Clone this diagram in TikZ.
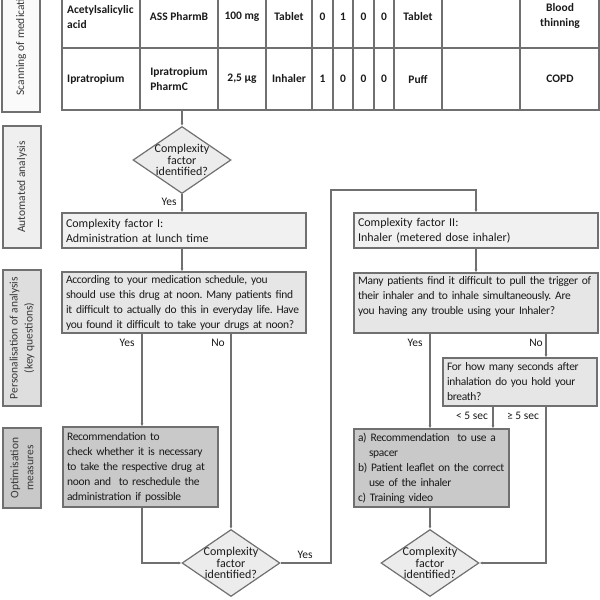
\documentclass[tikz,border=0pt]{standalone}
\usepackage{fontspec}
\setmainfont{Carlito}
\newfontfamily\qfont[WordSpace=0.7,LetterSpace=-2.5]{Carlito}
\usetikzlibrary{shapes.geometric,arrows.meta}
\definecolor{ln}{HTML}{707070}
\definecolor{txt}{HTML}{1A1A1A}
\definecolor{sidetxt}{HTML}{3A3A3A}
\definecolor{cfill}{HTML}{F1F1F1}
\definecolor{qfill}{HTML}{E6E6E6}
\definecolor{rfill}{HTML}{C9C9C9}
\definecolor{dfill}{HTML}{ECECEC}
\definecolor{sone}{HTML}{FAFAFA}
\definecolor{stwo}{HTML}{EFEFEF}
\definecolor{sthree}{HTML}{DEDEDE}
\definecolor{sfour}{HTML}{C9C9C9}
\newcommand\qline[1]{\mbox{#1}}
\begin{document}
\frenchspacing
\begin{tikzpicture}[x=1pt,y=-1pt,
  every node/.style={text=txt},
  conn/.style={draw=ln,line width=1.2pt,-{Latex[length=3pt,width=3pt]}},
  grid/.style={draw=ln,line width=1.2pt},
  fbox/.style={draw=ln,line width=1.2pt,rectangle,inner xsep=4pt,inner ysep=0pt,align=left},
  cfont/.style={font=\fontsize{12}{15}\selectfont},
  qf/.style={font=\qfont\fontsize{11.5}{15}\selectfont\frenchspacing},
  dia/.style={draw=ln,line width=1.2pt,diamond,fill=dfill,minimum width=98pt,minimum height=67pt,inner sep=0pt,
    label={[font=\fontsize{12}{11.5}\selectfont,align=center,text=txt]center:Complexity\\factor\\identified?}},
  lab/.style={font=\fontsize{11.5}{14}\selectfont,inner sep=0pt},
  side/.style={draw=ln,line width=1.2pt,rectangle,minimum height=38pt,inner sep=0pt,rotate=90,font=\fontsize{11.5}{15}\selectfont,text=sidetxt,align=center},
  tcell/.style={font=\bfseries\fontsize{11.5}{15}\selectfont,align=center,inner sep=0pt},
]
\useasboundingbox (0,0) rectangle (600,600);

% side labels
\node[side,fill=sone,minimum width=142pt] (s1) at (21,41) {Scanning of medication};
\node[side,fill=stwo,minimum width=122pt] (s2) at (22,187) {Automated analysis};
\node[side,fill=sthree,minimum width=136pt] (s3) at (22,338) {Personalisation of analysis\\(key questions)};
\node[side,fill=sfour,minimum width=80pt] (s4) at (22,468) {Optimisation\\measures};

% table
\draw[grid] (62,-14) rectangle (599,110);
\draw[grid] (62,48) -- (599,48);
\foreach \x in {140,218,266,312,333,353,374,394,442,520}
  \draw[grid] (\x,-14) -- (\x,110);
\node[tcell,anchor=west,align=left] (a1) at (67,17) {Acetylsalicylic\\acid};
\node[tcell] (a2) at (179,17) {ASS PharmB};
\node[tcell] (a3) at (242,17) {100 mg};
\node[tcell] (a4) at (289,17) {Tablet};
\node[tcell] (a5) at (322.5,17) {0};
\node[tcell] (a6) at (343,17) {1};
\node[tcell] (a7) at (363.5,17) {0};
\node[tcell] (a8) at (384,17) {0};
\node[tcell] (a9) at (418,17) {Tablet};
\node[tcell] (a11) at (560,16) {Blood\\thinning};
\node[tcell,anchor=west] (b1) at (67,79) {Ipratropium};
\node[tcell,align=left] (b2) at (179,79) {Ipratropium\\PharmC};
\node[tcell] (b3) at (242,79) {2,5 µg};
\node[tcell] (b4) at (289,79) {Inhaler};
\node[tcell] (b5) at (322.5,79) {1};
\node[tcell] (b6) at (343,79) {0};
\node[tcell] (b7) at (363.5,79) {0};
\node[tcell] (b8) at (384,79) {0};
\node[tcell] (b9) at (418,79) {Puff};
\node[tcell] (b11) at (560,79) {COPD};
\coordinate (tb) at (182,110);

% flow nodes
\node[dia] (d1) at (182,160) {};
\node[fbox,cfont,fill=cfill,text width=236pt,minimum height=35pt] (c1) at (184,230.5) {Complexity factor I:\\Administration at lunch time};
\node[fbox,cfont,fill=cfill,text width=236pt,minimum height=35pt] (c2) at (476,230.5) {Complexity factor II:\\Inhaler (metered dose inhaler)};
\node[fbox,qf,fill=qfill,text width=236pt,minimum height=61pt] (q1) at (184,302.5) {\qline{According to your medication schedule, you}\\\qline{should use this drug at noon. Many patients find}\\\qline{it difficult to actually do this in everyday life. Have}\\\qline{you found it difficult to take your drugs at noon?}};
\node[fbox,qf,fill=qfill,text width=236pt,minimum height=60pt] (q2) at (476,303) {\qline{Many patients find it difficult to pull the trigger of}\\\qline{their inhaler and to inhale simultaneously. Are}\\\qline{you having any trouble using your Inhaler?}\\\mbox{}};
\node[fbox,qf,fill=qfill,text width=146pt,minimum height=48pt] (q3) at (520,382) {\qline{For how many seconds after}\\\qline{inhalation do you hold your}\\\qline{breath?}};
\node[fbox,qf,fill=rfill,text width=147pt,minimum height=80pt] (r1) at (140.5,467) {\qline{Recommendation to}\\\qline{check whether it is necessary}\\\qline{to take the respective drug at}\\\qline{noon and \ to reschedule the}\\\qline{administration if possible}};
\node[fbox,qf,fill=rfill,text width=147pt,minimum height=78pt] (r2) at (431.5,468) {\qline{a) Recommendation \ to use a}\\\qline{\hspace*{11pt}spacer}\\\qline{b) Patient leaflet on the correct}\\\qline{\hspace*{11pt}use of the inhaler}\\\qline{c) Training video}};
\node[dia] (d2) at (231,563) {};
\node[dia] (d3) at (430,563) {};

\coordinate (xno) at (546,0);
\coordinate (xlt) at (493,0);
\coordinate (xloop) at (331,190);

% connectors
\draw[conn] (tb) -- (d1.north);
\draw[conn] (d1.south) -- (d1.south |- c1.north);
\draw[conn] (c1.south -| d1.south) -- (q1.north -| d1.south);
\draw[conn] (q1.south -| 142,0) -- (r1.north -| 142,0);
\draw[conn] (q1.south -| d2.north) -- (d2.north);
\draw[conn] (r1.south -| 142,0) |- (d2.west);
\draw[conn] (d2.east) -| (xloop) -| (c2.north);
\draw[conn] (c2.south) -- (q2.north);
\draw[conn] (q2.south -| d3.north) -- (r2.north -| d3.north);
\draw[conn] (q2.south -| xno) -- (q3.north -| xno);
\draw[conn] (q3.south -| xlt) -- (r2.north -| xlt);
\draw[conn] (q3.south -| xno) |- (d3.east);
\draw[conn] (r2.south -| d3.north) -- (d3.north);

% labels
\node[lab] (l1) at (169,202) {Yes};
\node[lab] (l2) at (127,343) {Yes};
\node[lab] (l3) at (218,343) {No};
\node[lab] (l4) at (305,555) {Yes};
\node[lab] (l5) at (415,343) {Yes};
\node[lab] (l6) at (536,343) {No};
\node[lab] (l7) at (472,416) {< 5 sec};
\node[lab] (l8) at (523,416) {≥ 5 sec};
\end{tikzpicture}
\end{document}
